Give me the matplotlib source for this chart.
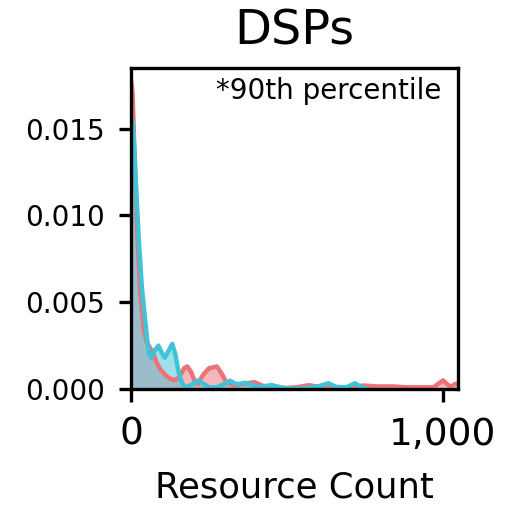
import matplotlib
matplotlib.use('Agg')
import matplotlib.pyplot as plt
from matplotlib.ticker import FuncFormatter

# density curves (resource count vs density)
red_x = [0, 5, 12, 20, 30, 40, 50, 60, 70, 80, 95, 110, 125, 140, 155, 170,
         180, 192, 205, 215, 230, 250, 275, 290, 305, 330, 360, 395, 420, 450,
         490, 530, 570, 610, 650, 700, 745, 790, 840, 880, 930, 970, 985, 1000,
         1012, 1025, 1040, 1050]
red_y = [0.0178, 0.0170, 0.0130, 0.0090, 0.0055, 0.0035, 0.0027, 0.0024,
         0.0021, 0.0016, 0.0011, 0.0008, 0.0006, 0.0005, 0.0007, 0.0012,
         0.0013, 0.0010, 0.0004, 0.0003, 0.0008, 0.0012, 0.0013, 0.0009,
         0.0004, 0.0002, 0.0003, 0.0004, 0.0002, 0.0001, 0.00005, 0.0001,
         0.00022, 0.0001, 0.00012, 0.0001, 0.0002, 0.00015, 0.00015, 0.0001,
         0.0001, 0.0001, 0.0003, 0.0005, 0.0003, 0.00013, 0.0003, 0.0003]

cyan_x = [0, 5, 10, 18, 25, 35, 45, 52, 58, 65, 75, 88, 98, 108, 120, 132,
          142, 152, 162, 172, 190, 215, 232, 250, 275, 300, 318, 335, 350,
          365, 385, 410, 450, 480, 515, 560, 600, 632, 660, 690, 718, 740, 760]
cyan_y = [0.0152, 0.0155, 0.0140, 0.0110, 0.0085, 0.0058, 0.0040, 0.0028,
          0.0020, 0.0018, 0.0022, 0.0025, 0.0021, 0.0018, 0.0022, 0.0026,
          0.0020, 0.0010, 0.0004, 0.0001, 0.0002, 0.0005, 0.0003, 0.0001,
          0.0001, 0.0003, 0.00048, 0.0003, 0.0003, 0.00036, 0.00025, 0.0001,
          0.00023, 0.0001, 0.0, 0.00005, 0.00015, 0.00033, 0.0001, 0.0001,
          0.00033, 0.0001, 0.0]

RED = '#EB7378'
CYAN = '#41C3D7'

fig = plt.figure(figsize=(5.1, 5.05), dpi=100)
ax = fig.add_axes([0.257, 0.2297, 0.641, 0.6356])

ax.fill_between(red_x, red_y, color=RED, alpha=0.5, linewidth=0)
ax.plot(red_x, red_y, color=RED, linewidth=3.2, solid_joinstyle='round')
ax.fill_between(cyan_x, cyan_y, color=CYAN, alpha=0.5, linewidth=0)
ax.plot(cyan_x, cyan_y, color=CYAN, linewidth=3.2, solid_joinstyle='round')

ax.set_xlim(0, 1048)
ax.set_ylim(0, 0.0185)
ax.set_xticks([0, 1000])
ax.xaxis.set_major_formatter(FuncFormatter(lambda v, p: f'{int(v):,}'))
ax.set_yticks([0, 0.005, 0.010, 0.015])
ax.set_yticklabels(['0.000', '0.005', '0.010', '0.015'])

for s in ax.spines.values():
    s.set_linewidth(2.4)
ax.tick_params(axis='both', width=2.4, length=9)
ax.tick_params(axis='x', labelsize=27, pad=11)
ax.tick_params(axis='y', labelsize=20, pad=10)

ax.text(0.948, 0.972, '*90th percentile', transform=ax.transAxes,
        ha='right', va='top', fontsize=20)
ax.set_title('DSPs', fontsize=34.5, pad=17)
ax.set_xlabel('Resource Count', fontsize=25.5, labelpad=13)

plt.savefig('out.png', dpi=100)
